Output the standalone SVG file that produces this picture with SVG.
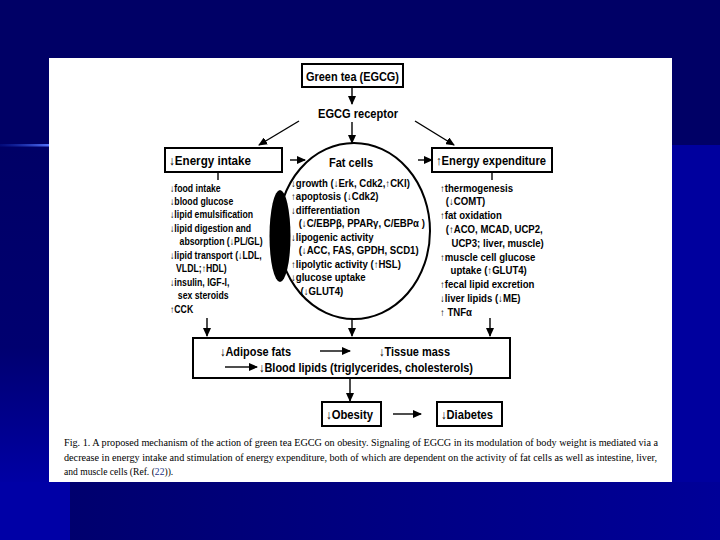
<svg xmlns="http://www.w3.org/2000/svg" width="720" height="540" viewBox="0 0 720 540">
<defs>
<marker id="ah" markerUnits="userSpaceOnUse" markerWidth="9" markerHeight="8" refX="8" refY="4" orient="auto">
<path d="M0,0 L9,4 L0,8 Z" fill="#000"/>
</marker>
<linearGradient id="bot" x1="0" y1="0" x2="1" y2="0">
<stop offset="0" stop-color="#00006e"/>
<stop offset="1" stop-color="#000098"/>
</linearGradient>
<linearGradient id="lft" x1="0" y1="0" x2="0" y2="1">
<stop offset="0" stop-color="#000066"/>
<stop offset="0.6" stop-color="#000070"/>
<stop offset="1" stop-color="#0000a4"/>
</linearGradient>
<linearGradient id="ln" x1="0" y1="0" x2="1" y2="0">
<stop offset="0" stop-color="#1030c0" stop-opacity="0.2"/>
<stop offset="1" stop-color="#5a78ff"/>
</linearGradient>
</defs>
<style>
.b{font-family:"Liberation Sans",Arial,sans-serif;font-weight:bold;fill:#000}
.t{font-size:10px}
.h{font-size:12.5px}
.c{font-family:"Liberation Serif","Times New Roman",serif;font-size:9.6px;fill:#000}
.box{fill:#fff;stroke:#000;stroke-width:2}
.ln{stroke:#000;stroke-width:1.4;fill:none}
.ar{stroke:#000;stroke-width:1.4;fill:none;marker-end:url(#ah)}
</style>
<!-- background -->
<rect width="720" height="540" fill="#000066"/>
<rect x="0" y="145" width="50" height="337" fill="url(#lft)"/>
<rect x="672" y="145" width="48" height="395" fill="#00009e"/>
<rect x="70" y="482" width="650" height="58" fill="url(#bot)"/>
<rect x="0" y="482" width="70" height="58" fill="#0000a6"/>
<rect x="0" y="144" width="50" height="2.5" fill="url(#ln)"/>
<rect x="49" y="58" width="623" height="424" fill="#fff"/>

<g id="connectors">
<line class="ar" x1="352" y1="87" x2="352" y2="104"/>
<line class="ar" x1="352" y1="122" x2="352" y2="143"/>
<line class="ar" x1="299" y1="121" x2="259" y2="145"/>
<line class="ar" x1="415" y1="121" x2="454" y2="145"/>
<line class="ar" x1="290" y1="160" x2="305" y2="160"/>
<line class="ar" x1="418" y1="160" x2="432" y2="160"/>
<line class="ln" x1="218" y1="172" x2="218" y2="180"/>
<line class="ln" x1="492" y1="172" x2="492" y2="180"/>
<line class="ar" x1="207" y1="318" x2="207" y2="336"/>
<line class="ar" x1="352" y1="318" x2="352" y2="336"/>
<line class="ar" x1="490" y1="318" x2="490" y2="336"/>
<line class="ar" x1="350" y1="379" x2="350" y2="401"/>
<line class="ar" x1="393" y1="414" x2="421" y2="414"/>
</g>

<g id="green-tea">
<rect class="box" x="302" y="64" width="101" height="23"/>
<text class="b h" x="352.5" y="80.5" text-anchor="middle" textLength="93" lengthAdjust="spacingAndGlyphs">Green tea (EGCG)</text>
</g>

<g id="egcg-receptor">
<text class="b h" x="358" y="118" text-anchor="middle" textLength="80" lengthAdjust="spacingAndGlyphs">EGCG receptor</text>
</g>

<g id="energy-intake">
<rect class="box" x="165" y="148" width="117" height="24"/>
<text class="b h" x="169" y="165" textLength="82" lengthAdjust="spacingAndGlyphs">↓Energy intake</text>
<g class="b t" transform="translate(170,0) scale(0.87,1)">
<text x="0" y="192">↓food intake</text>
<text x="0" y="205">↓blood glucose</text>
<text x="0" y="218.5">↓lipid emulsification</text>
<text x="0" y="232">↓lipid digestion and</text>
<text x="11" y="245.5">absorption (↓PL/GL)</text>
<text x="0" y="259">↓lipid transport (↓LDL,</text>
<text x="7" y="272.5">VLDL;↑HDL)</text>
<text x="0" y="286">↓insulin, IGF-I,</text>
<text x="9" y="299.5">sex steroids</text>
<text x="0" y="313">↑CCK</text>
</g>
</g>

<g id="fat-cells">
<ellipse cx="354" cy="231" rx="76" ry="88" fill="none" stroke="#000" stroke-width="2"/>
<ellipse cx="280" cy="236" rx="10.5" ry="46" fill="#000"/>
<text class="b h" x="351" y="167" text-anchor="middle" textLength="44" lengthAdjust="spacingAndGlyphs">Fat cells</text>
<g class="b t" transform="translate(291,0) scale(0.96,1)">
<text x="0" y="187">↓growth (↓Erk, Cdk2,↑CKI)</text>
<text x="0" y="200.5">↑apoptosis (↓Cdk2)</text>
<text x="0" y="214">↓differentiation</text>
<text x="8" y="227.5">(↓C/EBPβ, PPARγ, C/EBPα )</text>
<text x="0" y="241">↓lipogenic activity</text>
<text x="8" y="254.5">(↓ACC, FAS, GPDH, SCD1)</text>
<text x="0" y="268">↑lipolytic activity (↑HSL)</text>
<text x="0" y="281.5">↓glucose uptake</text>
<text x="10" y="295">(↓GLUT4)</text>
</g>
</g>

<g id="energy-expenditure">
<rect class="box" x="432" y="148" width="120" height="24"/>
<text class="b h" x="436" y="165" textLength="110" lengthAdjust="spacingAndGlyphs">↑Energy expenditure</text>
<g class="b t" transform="translate(440,0) scale(0.96,1)">
<text x="0" y="192">↑thermogenesis</text>
<text x="6" y="205.5">(↓COMT)</text>
<text x="0" y="219">↑fat oxidation</text>
<text x="6" y="233">(↑ACO, MCAD, UCP2,</text>
<text x="12" y="247">UCP3; liver, muscle)</text>
<text x="0" y="261">↑muscle cell glucose</text>
<text x="11" y="274.5">uptake (↑GLUT4)</text>
<text x="0" y="288">↑fecal lipid excretion</text>
<text x="0" y="302">↓liver lipids (↓ME)</text>
<text x="0" y="316">↑ TNFα</text>
</g>
</g>

<g id="adipose">
<rect class="box" x="193" y="338" width="317" height="40"/>
<text class="b h" x="220" y="355.5" textLength="71" lengthAdjust="spacingAndGlyphs">↓Adipose fats</text>
<line class="ar" x1="320" y1="351" x2="350" y2="351"/>
<text class="b h" x="379" y="355.5" textLength="71" lengthAdjust="spacingAndGlyphs">↓Tissue mass</text>
<line class="ar" x1="225" y1="367" x2="257" y2="367"/>
<text class="b h" x="259" y="371.5" textLength="214" lengthAdjust="spacingAndGlyphs">↓Blood lipids (triglycerides, cholesterols)</text>
</g>

<g id="obesity">
<rect class="box" x="322" y="402" width="59" height="24"/>
<text class="b h" x="326" y="419" textLength="47" lengthAdjust="spacingAndGlyphs">↓Obesity</text>
</g>

<g id="diabetes">
<rect class="box" x="437" y="402" width="65" height="24"/>
<text class="b h" x="441" y="419" textLength="52" lengthAdjust="spacingAndGlyphs">↓Diabetes</text>
</g>

<g id="caption">
<text class="c" x="64" y="446" textLength="594" lengthAdjust="spacingAndGlyphs">Fig. 1.  A proposed mechanism of the action of green tea EGCG on obesity. Signaling of EGCG in its modulation of body weight is mediated via a</text>
<text class="c" x="64" y="461" textLength="593" lengthAdjust="spacingAndGlyphs">decrease in energy intake and stimulation of energy expenditure, both of which are dependent on the activity of fat cells as well as intestine, liver,</text>
<text class="c" x="64" y="475">and muscle cells (Ref. (<tspan fill="#223388">22</tspan>)).</text>
</g>
</svg>
